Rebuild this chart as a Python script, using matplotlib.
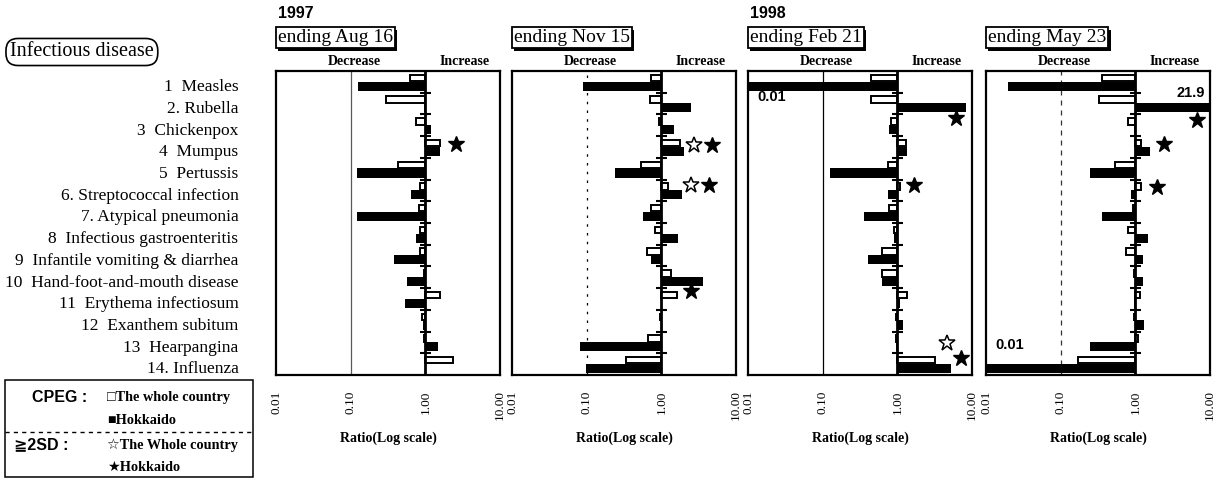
import numpy as np
import matplotlib
matplotlib.use("Agg")
import matplotlib.pyplot as plt
import matplotlib.patheffects as pe
from matplotlib.patches import Rectangle
from matplotlib.lines import Line2D

# ---- data ----
diseases = ["1  Measles", "2. Rubella", "3  Chickenpox", "4  Mumpus", "5  Pertussis",
            "6. Streptococcal infection", "7. Atypical pneumonia",
            "8  Infectious gastroenteritis", "9  Infantile vomiting & diarrhea",
            "10  Hand-foot-and-mouth disease", "11  Erythema infectiosum",
            "12  Exanthem subitum", "13  Hearpangina", "14. Influenza"]
years = ["1997", "", "1998", ""]
periods = ["ending Aug 16", "ending Nov 15", "ending Feb 21", "ending May 23"]

# CPEG ratio, whole country
whole_aug = [0.63, 0.30, 0.76, 1.55, 0.43, 0.84, 0.81, 0.86, 0.86, 0.95, 1.58, 0.90, 0.95, 2.34]
whole_nov = [0.73, 0.70, 0.92, 1.77, 0.53, 1.23, 0.73, 0.81, 0.65, 1.36, 1.60, 0.97, 0.67, 0.34]
whole_feb = [0.45, 0.44, 0.81, 1.29, 0.74, 1.10, 0.77, 0.90, 0.63, 0.63, 1.33, 0.95, 0.97, 3.15]
whole_may = [0.355, 0.33, 0.80, 1.18, 0.53, 1.20, 0.93, 0.80, 0.76, 0.95, 1.14, 0.97, 1.08, 0.17]
# CPEG ratio, Hokkaido
hok_aug = [0.125, 0.95, 1.19, 1.55, 0.12, 0.64, 0.12, 0.76, 0.38, 0.56, 0.54, 0.93, 1.50, 1.0]
hok_nov = [0.09, 2.50, 1.48, 2.02, 0.24, 1.92, 0.57, 1.68, 0.73, 3.60, 1.0, 0.98, 0.081, 0.097]
hok_feb = [0.01, 8.40, 0.77, 1.33, 0.126, 0.76, 0.36, 0.90, 0.40, 0.62, 1.10, 1.20, 0.97, 5.25]
hok_may = [0.020, 21.9, 0.95, 1.55, 0.25, 0.87, 0.36, 1.47, 1.26, 1.26, 0.97, 1.30, 0.25, 0.01]

# >=2SD stars: row position and ratio where the star sits
wstar_rows = [[], [2.91, 4.75], [12.03], []]
wstar_x = [[], [2.7, 2.47], [4.6], []]
hstar_rows = [[2.86], [2.91, 4.75, 9.64], [1.67, 4.75, 12.73], [1.76, 2.86, 4.85]]
hstar_x = [[2.6], [4.7, 4.3, 2.47], [6.1, 1.68, 7.1], [6.8, 2.4, 1.96]]

# clipped values written on the panels
notes_panel = [2, 3, 3]
notes_x = [0.0135, 0.0135, 8.6]
notes_row = [0.72, 12.1, 0.5]
notes_text = ["0.01", "0.01", "21.9"]

whole = [whole_aug, whole_nov, whole_feb, whole_may]
hok = [hok_aug, hok_nov, hok_feb, hok_may]
rows = np.arange(len(diseases))

# ---- layout (pixels of the 1220x486 picture) ----
W, H = 1220, 486
def fx(x):
    return x / W
def fy(y):
    return 1 - y / H

serif = ["Liberation Serif", "DejaVu Sans"]
sans = ["Liberation Sans", "DejaVu Sans"]
plt.rcParams["font.family"] = serif

fig = plt.figure(figsize=(12.2, 4.86), dpi=100)

lefts = [276, 512, 748, 986]
pw = 224
top, bot = 71, 375
ref_styles = ["-", (0, (2, 5)), "-", (0, (4, 4))]
ref_colors = ["0.35", "k", "k", "0.2"]

for i in range(4):
    ax = fig.add_axes([fx(lefts[i]), fy(bot), pw / W, (bot - top) / H])
    ax.set_xscale("log")
    ax.set_xlim(0.01, 10)
    ax.set_ylim(len(rows) - 0.5, -0.5)

    w = np.array(whole[i])
    h = np.array(hok[i])
    ax.barh(rows - 0.18, w - 1, left=1, height=0.3, facecolor="white",
            edgecolor="k", linewidth=1.4, zorder=3)
    ax.barh(rows + 0.2, h - 1, left=1, height=0.42, color="k", zorder=2)

    ax.axvline(0.1, color=ref_colors[i], ls=ref_styles[i], lw=0.9, zorder=1)
    ax.axvline(1, color="k", lw=2, zorder=4)
    ax.hlines(rows[:-1] + 0.5, 10 ** -0.07, 10 ** 0.07, color="k", lw=1.5, zorder=5)

    ax.plot(wstar_x[i], wstar_rows[i], ls="none", marker="*", ms=12,
            mfc="white", mec="k", mew=1.1, zorder=6)
    ax.plot(hstar_x[i], hstar_rows[i], ls="none", marker="*", ms=12,
            mfc="k", mec="k", zorder=6)

    for p, xv, rv, tx in zip(notes_panel, notes_x, notes_row, notes_text):
        if p == i:
            ax.text(xv, rv, tx, ha="left" if xv < 1 else "right", va="center",
                    family=sans, fontsize=10.5, fontweight="bold", zorder=7)

    ax.set_xticks([0.01, 0.1, 1, 10])
    ax.set_xticklabels(["0.01", "0.10", "1.00", "10.00"])
    ax.minorticks_off()
    ax.tick_params(axis="x", length=0, pad=11, labelrotation=90, labelsize=9.5)
    if i == 0:
        ax.set_yticks(rows + 0.15)
        ax.set_yticklabels(diseases, fontsize=12.5)
        ax.tick_params(axis="y", length=0, pad=27)
    else:
        ax.set_yticks([])
    for s in ax.spines.values():
        s.set_linewidth(1.6)

    ax.set_xlabel("Ratio(Log scale)", fontsize=10, fontweight="bold")
    ax.xaxis.set_label_coords(0.5, -0.185)

    ax.text(0.35, 1.03, "Decrease", transform=ax.transAxes, ha="center",
            va="center", fontsize=10, fontweight="bold")
    ax.text(0.84, 1.03, "Increase", transform=ax.transAxes, ha="center",
            va="center", fontsize=10, fontweight="bold")

    t = ax.text(0.008, 1.109, periods[i], transform=ax.transAxes, ha="left",
                va="center", fontsize=14,
                bbox=dict(boxstyle="square,pad=0.1", fc="white", ec="k", lw=1.3))
    t.get_bbox_patch().set_path_effects(
        [pe.SimplePatchShadow(offset=(1.8, -1.8), shadow_rgbFace="k", alpha=1),
         pe.Normal()])
    if years[i]:
        ax.text(0.01, 1.19, years[i], transform=ax.transAxes, ha="left",
                va="center", family=sans, fontsize=11.5, fontweight="bold")

# left side labels
fig.text(fx(10), fy(52), "Infectious disease", ha="left", va="center", fontsize=14.5,
         bbox=dict(boxstyle="round,pad=0.2,rounding_size=0.6", fc="white",
                   ec="k", lw=1.2))

fig.add_artist(Rectangle((fx(5), fy(477)), 248 / W, 97 / H, transform=fig.transFigure,
                         fill=False, lw=1.1, ec="k"))
fig.add_artist(Line2D([fx(5), fx(253)], [fy(432), fy(432)], transform=fig.transFigure,
                      ls=(0, (3, 3)), lw=1, color="k"))
fig.text(fx(32), fy(397), "CPEG :", ha="left", va="center", family=sans,
         fontsize=11.5, fontweight="bold")
fig.text(fx(107), fy(397), "\u25a1The whole country", ha="left", va="center",
         fontsize=10.3, fontweight="bold")
fig.text(fx(107), fy(420), "\u25a0Hokkaido", ha="left", va="center",
         fontsize=10.3, fontweight="bold")
fig.text(fx(14), fy(445), "\u22672SD :", ha="left", va="center", family=sans,
         fontsize=11.5, fontweight="bold")
fig.text(fx(107), fy(445), "\u2606The Whole country", ha="left", va="center",
         fontsize=10.3, fontweight="bold")
fig.text(fx(107), fy(467), "\u2605Hokkaido", ha="left", va="center",
         fontsize=10.3, fontweight="bold")

fig.savefig("out.png", dpi=100)
